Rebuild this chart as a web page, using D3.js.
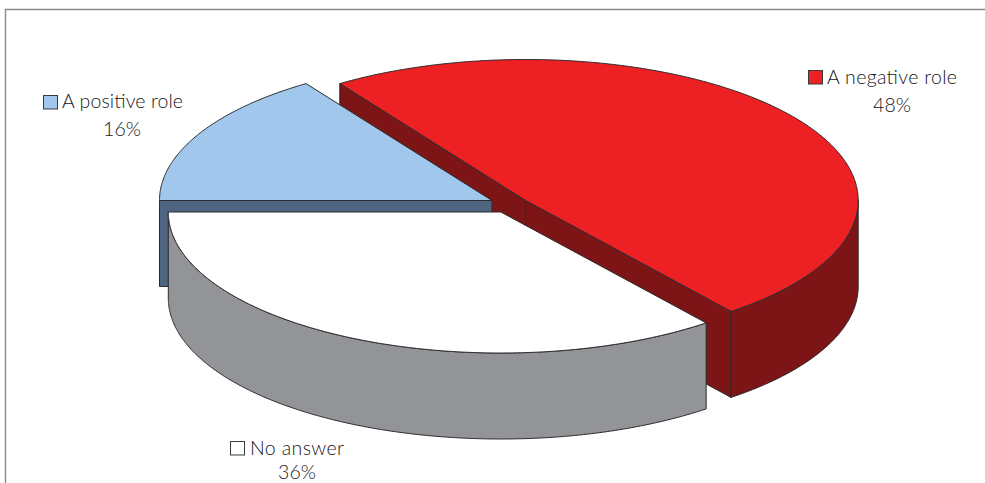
<!DOCTYPE html>
<html>
<head>
<meta charset="utf-8">
<script src="https://cdn.jsdelivr.net/npm/d3@7"></script>
<style>
html,body{margin:0;padding:0;background:#fff;overflow:hidden}
svg{display:block}
text{font-family:Lato,"Open Sans",sans-serif;font-weight:300;fill:#161618;font-size:19.5px}
</style>
</head>
<body>
<svg id="c" width="985" height="483"></svg>
<script>
// Data
const categories = ["A positive role", "A negative role", "No answer"];
const values = [16, 48, 36];

// Styles per slice
const topColors  = ["#a1c8ec", "#ed2024", "#ffffff"];
const sideColors = ["#4e6480", "#7d1416", "#929497"];

// Layout (exploded pie centres, tilt and legend positions)
const W = 985, H = 483;
const rx = 332.5, ry = 141, depth = 86;
const centers = [[492, 200.5], [525.7, 200.5], [500.8, 212]];
const legendPos = [
  {sx: 43, sy: 95,  tx: 62,  ty: 108, cx: 122, py: 136, w: 121},
  {sx: 808, sy: 70, tx: 827, ty: 84,  cx: 892, py: 112, w: 130},
  {sx: 230, sy: 441, tx: 250, ty: 455, cx: 297, py: 479, w: 94}
];
const perspective = 0.033;        // slight angular warp of the 3-D view
const stroke = "#2b2b2d";

const svg = d3.select("#c");

// Chart frame
svg.append("path")
  .attr("d", d3.line()([[5.5, H], [5.5, 9.5], [W, 9.5]]))
  .attr("fill", "none").attr("stroke", "#8a8a8a").attr("stroke-width", 1.4);

const arcs = d3.pie().sort(null).value(d => d)
  .startAngle(-Math.PI / 2).endAngle(1.5 * Math.PI)(values);

const warp = a => a - perspective * Math.cos(a);
const xs = i => d3.scaleLinear().domain([-1, 1]).range([centers[i][0] - rx, centers[i][0] + rx]);
const ys = i => d3.scaleLinear().domain([-1, 1]).range([centers[i][1] + ry, centers[i][1] - ry]);
const pt = (i, a, dz = 0) => [xs(i)(Math.sin(warp(a))), ys(i)(Math.cos(warp(a))) + dz];
const samples = (a0, a1) => { const n = Math.max(2, Math.ceil(Math.abs(a1 - a0) * 120));
  return d3.range(n + 1).map(k => a0 + (a1 - a0) * k / n); };
const line = d3.line();
const C = i => centers[i];

function poly(points, fill) {
  svg.append("path").attr("d", line(points) + "Z")
    .attr("fill", fill).attr("stroke", stroke).attr("stroke-width", 1).attr("stroke-linejoin", "miter");
}
function topFace(i) {
  const a = arcs[i];
  poly([C(i), ...samples(a.startAngle, a.endAngle).map(t => pt(i, t))], topColors[i]);
}
function cutWall(i, angle) {
  const p = pt(i, angle), c = C(i);
  poly([c, p, [p[0], p[1] + depth], [c[0], c[1] + depth]], sideColors[i]);
}
function outerWall(i) {
  const a = arcs[i];
  const a0 = Math.max(a.startAngle, Math.PI / 2), a1 = Math.min(a.endAngle, 1.5 * Math.PI);
  if (a1 <= a0) return;
  const s = samples(a0, a1);
  poly([...s.map(t => pt(i, t)), ...s.slice().reverse().map(t => pt(i, t, depth))], sideColors[i]);
}

// Negative role (rear-most)
cutWall(1, arcs[1].startAngle);
cutWall(1, arcs[1].endAngle);
outerWall(1);
topFace(1);
// Positive role
cutWall(0, arcs[0].startAngle);
topFace(0);
// No answer
outerWall(2);
topFace(2);

// Labels
categories.forEach((name, i) => {
  const l = legendPos[i];
  svg.append("rect").attr("x", l.sx + .5).attr("y", l.sy + .5).attr("width", 14).attr("height", 13.5)
    .attr("fill", topColors[i]).attr("stroke", "#3b3b3d").attr("stroke-width", 1);
  svg.append("text").attr("x", l.tx).attr("y", l.ty).attr("textLength", l.w)
    .attr("lengthAdjust", "spacing").text(name);
  svg.append("text").attr("x", l.cx).attr("y", l.py).attr("text-anchor", "middle").text(values[i] + "%");
});
</script>
</body>
</html>
